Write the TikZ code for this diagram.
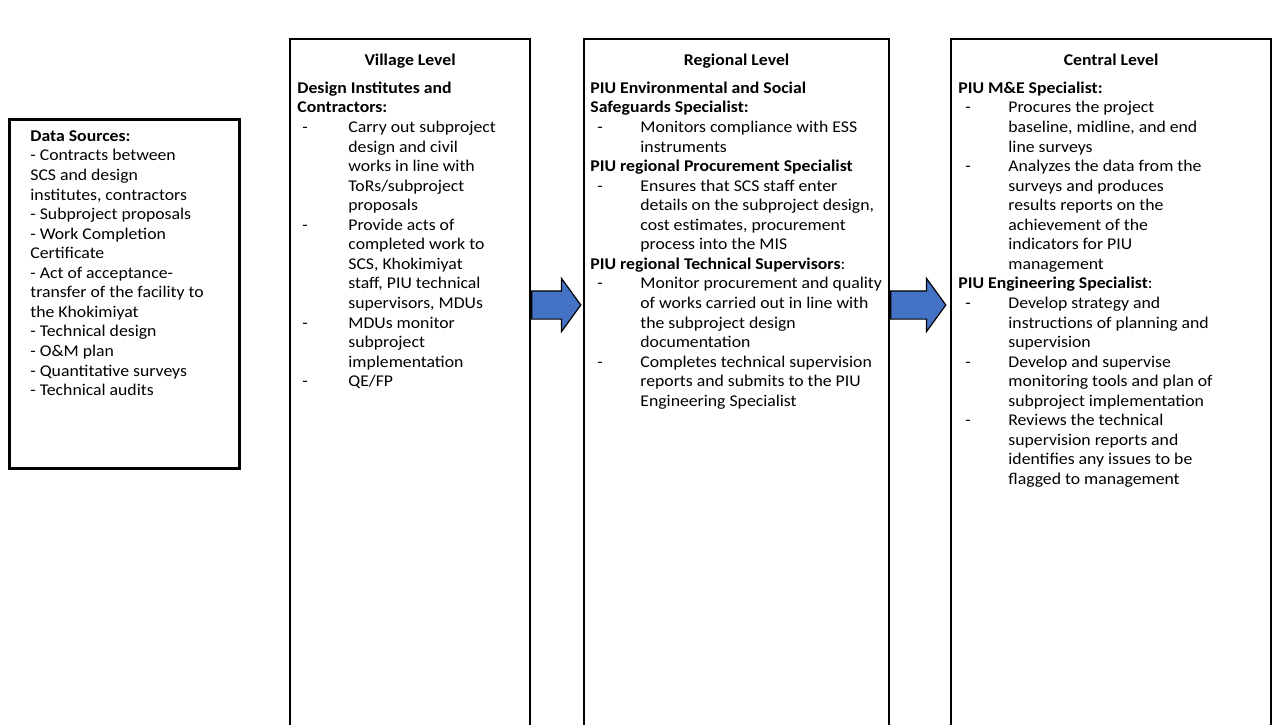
\documentclass[tikz,border=0pt]{standalone}
\usepackage{fontspec}
\setmainfont[FakeStretch=1.08]{Carlito}
\usetikzlibrary{shapes.arrows}
\definecolor{arrowblue}{HTML}{4472C4}
\newcommand\bodyfont{\fontsize{8.2}{9.775}\selectfont}
\newcommand\hd[1]{\multicolumn{2}{@{}l@{}}{\bfseries #1}}
\begin{document}
\begin{tikzpicture}[x=0.5pt,y=-0.5pt,
  column/.style={draw=black, line width=1.1pt, anchor=north west, inner sep=0pt, minimum height=380pt},
  srcbox/.style={draw=black, line width=1.3pt, anchor=north west, inner sep=0pt},
  title/.style={anchor=base, inner sep=0pt, font=\bodyfont\bfseries},
  body/.style={anchor=north west, inner sep=0pt, font=\bodyfont, yshift=6.8425pt},
  blockarrow/.style={single arrow, draw=black, line width=0.6pt, fill=arrowblue,
    anchor=tail, inner xsep=0pt, inner ysep=6.75pt, minimum width=26pt,
    single arrow head extend=6.25pt, single arrow tip angle=108}
]
\useasboundingbox (0,0) rectangle (1284,724);
\clip (0,0) rectangle (1284,724);
\fill[white] (0,0) rectangle (1284,724);

% data sources
\node[srcbox, minimum width=115pt, minimum height=174.5pt] (src) at (8,118) {};
\node[body] (srctext) at (30,141) {\begin{tabular}{@{}l@{}}
\bfseries Data Sources:\\
- Contracts between\\
SCS and design\\
institutes, contractors\\
- Subproject proposals\\
- Work Completion\\
Certificate\\
- Act of acceptance-\\
transfer of the facility to\\
the Khokimiyat\\
- Technical design\\
- O\&M plan\\
- Quantitative surveys\\
- Technical audits
\end{tabular}};

% the three levels
\node[column, minimum width=120pt] (village) at (289,38) {};
\node[column, minimum width=152.5pt] (regional) at (583,38) {};
\node[column, minimum width=160pt] (central) at (950,38) {};

% block arrows between levels
\node[blockarrow, minimum height=24.5pt] (a1) at (village.east |- 0,305) {};
\node[blockarrow, minimum height=27.5pt] (a2) at (regional.east |- 0,305) {};

% titles
\node[title] (vtitle) at (village.north |- 0,65) {Village Level};
\node[title] (rtitle) at (regional.north |- 0,65) {Regional Level};
\node[title] (ctitle) at (central.north |- 0,65) {Central Level};

% village level text
\node[body] (vtext) at (297,93) {\begin{tabular}{@{\hspace{2.5pt}}p{23pt}@{}l@{}}
\hd{Design Institutes and}\\
\hd{Contractors:}\\
- & Carry out subproject\\
  & design and civil\\
  & works in line with\\
  & ToRs/subproject\\
  & proposals\\
- & Provide acts of\\
  & completed work to\\
  & SCS, Khokimiyat\\
  & staff, PIU technical\\
  & supervisors, MDUs\\
- & MDUs monitor\\
  & subproject\\
  & implementation\\
- & QE/FP
\end{tabular}};

% regional level text
\node[body] (rtext) at (590,93) {\begin{tabular}{@{\hspace{3.5pt}}p{21.5pt}@{}l@{}}
\hd{PIU Environmental and Social}\\
\hd{Safeguards Specialist:}\\
- & Monitors compliance with ESS\\
  & instruments\\
\hd{PIU regional Procurement Specialist}\\
- & Ensures that SCS staff enter\\
  & details on the subproject design,\\
  & cost estimates, procurement\\
  & process into the MIS\\
\multicolumn{2}{@{}l@{}}{\textbf{PIU regional Technical Supervisors}:}\\
- & Monitor procurement and quality\\
  & of works carried out in line with\\
  & the subproject design\\
  & documentation\\
- & Completes technical supervision\\
  & reports and submits to the PIU\\
  & Engineering Specialist
\end{tabular}};

% central level text
\node[body] (ctext) at (958,93) {\begin{tabular}{@{\hspace{3.5pt}}p{21.5pt}@{}l@{}}
\hd{PIU M\&E Specialist:}\\
- & Procures the project\\
  & baseline, midline, and end\\
  & line surveys\\
- & Analyzes the data from the\\
  & surveys and produces\\
  & results reports on the\\
  & achievement of the\\
  & indicators for PIU\\
  & management\\
\multicolumn{2}{@{}l@{}}{\textbf{PIU Engineering Specialist}:}\\
- & Develop strategy and\\
  & instructions of planning and\\
  & supervision\\
- & Develop and supervise\\
  & monitoring tools and plan of\\
  & subproject implementation\\
- & Reviews the technical\\
  & supervision reports and\\
  & identifies any issues to be\\
  & flagged to management
\end{tabular}};
\end{tikzpicture}
\end{document}
